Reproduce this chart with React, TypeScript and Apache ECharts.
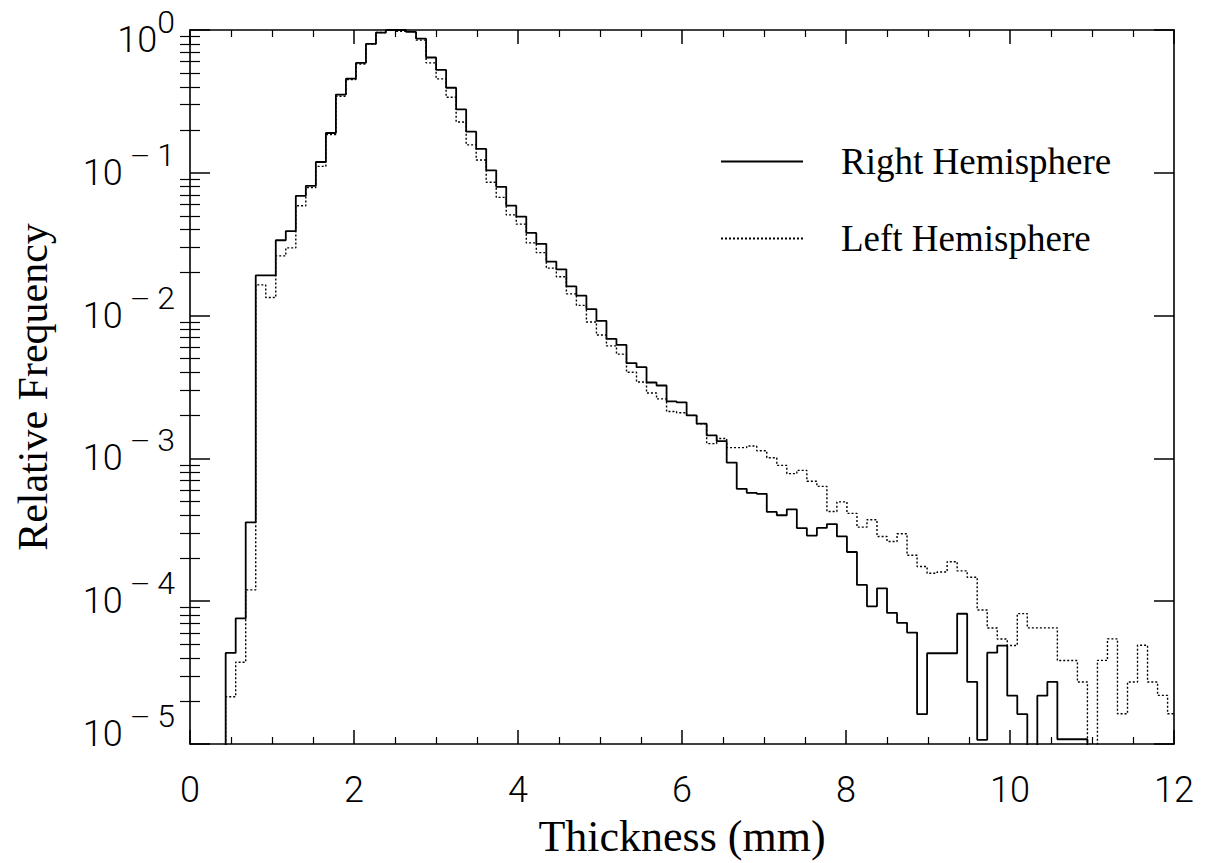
import React, { useEffect, useRef } from "react";
import * as echarts from "echarts";

// ---- axis ranges and tick values ----
const X_MIN = 0;
const X_MAX = 12;
const X_TICK_STEP = 2;
const Y_MIN = 1e-5;
const Y_MAX = 1;
const Y_DECADE_EXPONENTS = [-5, -4, -3, -2, -1, 0];
const Y_MINOR_MANTISSAS = [2, 3, 4, 5, 6, 7, 8, 9];

// ---- histogram bins (thickness, mm) ----
const BIN_START = 0.435; // left edge of first bin
const BIN_WIDTH = 0.1222;
const EMPTY_BIN_FLOOR = 1e-7; // empty bins fall below the log axis

// relative frequency per bin (0 = empty bin)
const rightHemisphere = [
  4.34e-5, 7.58e-5, 3.57e-4, 0.0191, 0.0191, 0.0337, 0.0391, 0.069, 0.081, 0.119,
  0.19, 0.353, 0.456, 0.588, 0.8, 0.96, 1.0, 1.0, 0.97, 0.87,
  0.642, 0.525, 0.394, 0.278, 0.194, 0.147, 0.104, 0.0798, 0.0589, 0.0494,
  0.0379, 0.0318, 0.0239, 0.0211, 0.016, 0.0138, 0.0111, 0.00919, 0.00687, 0.00624,
  0.00465, 0.00435, 0.0034, 0.00324, 0.00251, 0.00247, 0.002, 0.00175, 0.00145, 0.00132,
  0.000935, 0.000612, 0.000574, 0.000565, 0.000422, 0.0004, 0.00044, 0.000325, 0.000288, 0.000326,
  0.000347, 0.000284, 0.000221, 0.00013, 9.2e-5, 0.000123, 8.28e-5, 7.06e-5, 6.03e-5, 1.62e-5,
  4.32e-5, 4.32e-5, 4.32e-5, 8.17e-5, 2.72e-5, 1.07e-5, 4.36e-5, 4.89e-5, 2.18e-5, 1.62e-5,
  0, 2.18e-5, 2.72e-5, 1.08e-5, 1.08e-5, 1.08e-5, 0, 0, 0, 0,
  0, 0, 0, 0, 0,
];

const leftHemisphere = [
  2.14e-5, 3.74e-5, 1.2e-4, 0.0164, 0.0134, 0.0262, 0.0298, 0.0588, 0.0788, 0.111,
  0.185, 0.344, 0.45, 0.578, 0.8, 0.96, 1.0, 0.98, 0.97, 0.85,
  0.589, 0.455, 0.338, 0.227, 0.157, 0.123, 0.0858, 0.0673, 0.0507, 0.0437,
  0.0323, 0.0276, 0.0215, 0.0187, 0.0142, 0.0118, 0.00903, 0.00731, 0.00614, 0.00537,
  0.00401, 0.00343, 0.00287, 0.00261, 0.00213, 0.00209, 0.002, 0.00175, 0.00127, 0.00138,
  0.00119, 0.00119, 0.00122, 0.00113, 0.00101, 0.000893, 0.000782, 0.000824, 0.000692, 0.000637,
  0.000425, 0.000496, 0.000412, 0.00033, 0.000372, 0.000284, 0.000262, 0.000297, 0.00021, 0.000175,
  0.000157, 0.00016, 0.000189, 0.000163, 0.000147, 8.68e-5, 6.49e-5, 5.43e-5, 4.9e-5, 8.19e-5,
  6.5e-5, 6.5e-5, 6.5e-5, 3.84e-5, 3.84e-5, 2.72e-5, 0, 3.85e-5, 5.45e-5, 1.63e-5,
  2.72e-5, 4.92e-5, 2.72e-5, 2.19e-5, 1.63e-5,
];

const SERIES_NAMES = ["Right Hemisphere", "Left Hemisphere"];
const X_TITLE = "Thickness (mm)";
const Y_TITLE = "Relative Frequency";

const NUM_FONT = "Roboto, 'Liberation Sans', sans-serif";
const SERIF_FONT = "'Liberation Serif', 'Times New Roman', serif";

function toSteps(values: number[]): [number, number][] {
  const pts: [number, number][] = [[X_MIN, EMPTY_BIN_FLOOR]];
  values.forEach((v, k) => {
    pts.push([BIN_START + k * BIN_WIDTH, v > 0 ? v : EMPTY_BIN_FLOOR]);
  });
  const last = values[values.length - 1];
  pts.push([X_MAX, last > 0 ? last : EMPTY_BIN_FLOOR]);
  return pts;
}

const minorLogTicks: number[] = [];
Y_DECADE_EXPONENTS.slice(0, -1).forEach((e) => {
  Y_MINOR_MANTISSAS.forEach((m) => minorLogTicks.push(m * Math.pow(10, e)));
});

const TOP_EXP = Y_DECADE_EXPONENTS[Y_DECADE_EXPONENTS.length - 1];
const BOTTOM_EXP = Y_DECADE_EXPONENTS[0];

function yLabel(v: number): string {
  const e = Math.round(Math.log10(v));
  // label families: t = top label (pushed down), n = normal, l = lowest label (pushed up)
  const f = e === TOP_EXP ? "t" : e === BOTTOM_EXP ? "l" : "n";
  if (e === 0) return `{b${f}|10}{s${f}|0}`;
  return `{b${f}|10}{m${f}|—}{s${f}|${-e}}`;
}

function richFamily(suffix: string, lineHeight: number) {
  const base = { fontFamily: NUM_FONT, fontWeight: 300, color: "#000", verticalAlign: "bottom" };
  return {
    ["b" + suffix]: { ...base, fontSize: 36, lineHeight },
    ["m" + suffix]: { ...base, fontSize: 24, lineHeight: Math.min(lineHeight, 24), padding: [0, 8, 23, 8] },
    ["s" + suffix]: { ...base, fontSize: 32, lineHeight: Math.min(lineHeight, 32), padding: [0, 0, 20, 0] },
  };
}

export default function App() {
  const ref = useRef<HTMLDivElement>(null);
  useEffect(() => {
    if (!ref.current) return;
    const chart = echarts.init(ref.current, undefined, { renderer: "svg" });
    const black = "#000";
    const majorTickX = { show: true, inside: true, length: 14, lineStyle: { color: black, width: 1.5 } };
    const minorTickX = { show: true, splitNumber: 4, length: 7, lineStyle: { color: black, width: 1.2 } };
    const baseY = {
      type: "log" as const,
      logBase: 10,
      min: Y_MIN,
      max: Y_MAX,
      splitLine: { show: false },
    };
    chart.setOption({
      animation: false,
      backgroundColor: "#fff",
      grid: { left: 190, top: 30, width: 984, height: 721 },
      legend: {
        orient: "vertical",
        left: 720,
        top: 143,
        padding: 0,
        itemWidth: 82,
        itemHeight: 14,
        itemGap: 40,
        itemStyle: { color: "rgba(0,0,0,0)", borderColor: "rgba(0,0,0,0)", borderWidth: 0, opacity: 0 },
        textStyle: {
          fontFamily: SERIF_FONT,
          fontSize: 37,
          color: black,
          padding: [0, 0, 0, 33],
        },
        data: SERIES_NAMES,
      },
      xAxis: [
        {
          type: "value",
          min: X_MIN,
          max: X_MAX,
          interval: X_TICK_STEP,
          position: "bottom",
          name: X_TITLE,
          nameLocation: "middle",
          nameGap: 70,
          nameTextStyle: { fontFamily: SERIF_FONT, fontSize: 44, color: black },
          axisLine: { show: true, onZero: false, lineStyle: { color: black, width: 1.6 } },
          axisTick: majorTickX,
          minorTick: minorTickX,
          axisLabel: {
            fontFamily: NUM_FONT,
            fontWeight: 300,
            fontSize: 36,
            color: black,
            margin: 28,
          },
          splitLine: { show: false },
        },
        {
          type: "value",
          min: X_MIN,
          max: X_MAX,
          interval: X_TICK_STEP,
          position: "top",
          axisLine: { show: true, onZero: false, lineStyle: { color: black, width: 1.6 } },
          axisTick: majorTickX,
          minorTick: minorTickX,
          axisLabel: { show: false },
          splitLine: { show: false },
        },
      ],
      yAxis: [
        {
          ...baseY,
          position: "left",
          name: Y_TITLE,
          nameLocation: "middle",
          nameGap: 136,
          nameTextStyle: { fontFamily: SERIF_FONT, fontSize: 42, color: black },
          axisLine: { show: true, onZero: false, lineStyle: { color: black, width: 1.6 } },
          axisTick: { show: true, inside: true, length: 20, lineStyle: { color: black, width: 1.5 } },
          axisLabel: {
            formatter: yLabel,
            margin: 15,
            color: black,
            rich: {
              ...richFamily("n", 36),
              ...richFamily("t", 56),
              ...richFamily("l", 16),
            },
          },
        },
        {
          ...baseY,
          position: "left",
          axisLine: { show: false },
          axisTick: { show: true, inside: true, length: 10, customValues: minorLogTicks, lineStyle: { color: black, width: 1.2 } },
          axisLabel: { show: false },
        },
        {
          ...baseY,
          position: "right",
          axisLine: { show: true, onZero: false, lineStyle: { color: black, width: 1.6 } },
          axisTick: { show: true, inside: true, length: 20, lineStyle: { color: black, width: 1.5 } },
          axisLabel: { show: false },
        },
        {
          ...baseY,
          position: "right",
          axisLine: { show: false },
          axisTick: { show: true, inside: true, length: 10, customValues: minorLogTicks, lineStyle: { color: black, width: 1.2 } },
          axisLabel: { show: false },
        },
      ],
      series: [
        {
          name: SERIES_NAMES[0],
          type: "line",
          step: "end",
          xAxisIndex: 0,
          yAxisIndex: 0,
          symbol: "none",
          showSymbol: false,
          clip: true,
          lineStyle: { color: black, width: 1.8, type: "solid" },
          itemStyle: { color: black },
          data: toSteps(rightHemisphere),
        },
        {
          name: SERIES_NAMES[1],
          type: "line",
          step: "end",
          xAxisIndex: 0,
          yAxisIndex: 0,
          symbol: "none",
          showSymbol: false,
          clip: true,
          lineStyle: { color: black, width: 1.4, type: [2, 2] },
          itemStyle: { color: black },
          data: toSteps(leftHemisphere),
        },
      ],
    });
    return () => chart.dispose();
  }, []);
  return (
    <div
      ref={ref}
      style={{ position: "absolute", left: 0, top: 0, width: 1207, height: 863, background: "#fff" }}
    />
  );
}
